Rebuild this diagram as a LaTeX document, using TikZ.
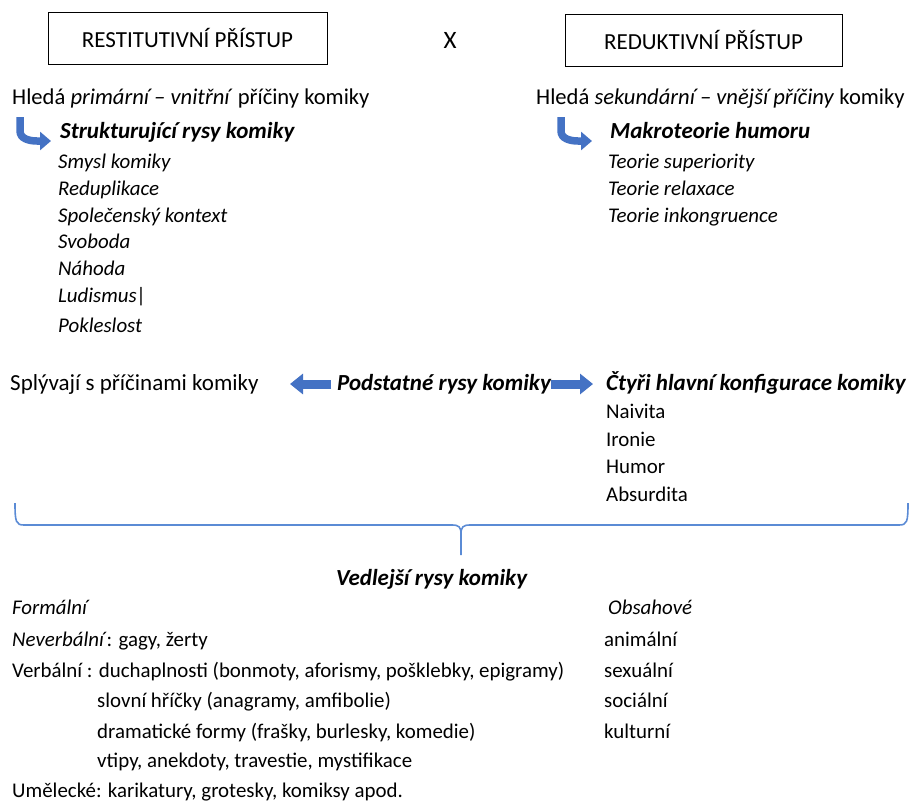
\documentclass[tikz,border=0pt]{standalone}
\usepackage{fontspec}
\setmainfont{Carlito}
\usetikzlibrary{arrows.meta}
\definecolor{arrblue}{HTML}{4472C4}
\definecolor{braceblue}{HTML}{5B8BD5}
\newcommand{\smallsz}{\fontsize{20.9}{25}\selectfont}
\newcommand{\bigsz}{\fontsize{23}{27}\selectfont}
\begin{document}
\begin{tikzpicture}[x=1pt,y=-1pt,
  every node/.style={font=\smallsz, inner sep=0pt},
  txt/.style={anchor=base west},
  bigtxt/.style={anchor=base west, font=\bigsz},
  it/.style={anchor=base west, font=\smallsz\itshape},
  bi/.style={anchor=base west, font=\bigsz\bfseries\itshape},
  headbox/.style={draw, line width=0.9pt, minimum height=52pt, font=\bigsz},
  bendarrow/.style={arrblue, line width=7.5pt, -{Triangle[length=11pt,width=18pt]}},
  blockarrow/.style={arrblue, line width=9pt, -{Triangle[length=13pt,width=20pt]}},
  bracestyle/.style={braceblue, line width=1.6pt, line join=round}
]
\useasboundingbox (0,0) rectangle (911,801);

% header
\node[headbox, minimum width=279pt] (rest) at (187.5,38) {RESTITUTIVNÍ PŘÍSTUP};
\node[font=\fontsize{25}{30}\selectfont] (x) at (450,40) {X};
\node[headbox, minimum width=277pt] (red) at (703.5,40) {REDUKTIVNÍ PŘÍSTUP};

% left column
\node[bigtxt, font=\fontsize{22.6}{27}\selectfont] (hl) at (12,104) {Hledá \textit{primární – vnitřní} příčiny komiky};
\node[bi] (str) at (60,138) {Strukturující rysy komiky};
\node[it] (l1) at (58,168) {Smysl komiky};
\node[it] (l2) at (58,195) {Reduplikace};
\node[it] (l3) at (58,222) {Společenský kontext};
\node[it] (l4) at (58,248) {Svoboda};
\node[it] (l5) at (58,275) {Náhoda};
\node[it] (l6) at (58,302) {Ludismus|};
\node[it] (l7) at (58,332) {Pokleslost};

% right column
\node[bigtxt, font=\fontsize{22.6}{27}\selectfont] (hr) at (536,104) {Hledá \textit{sekundární – vnější příčiny} komiky};
\node[bi] (mak) at (610,138) {Makroteorie humoru};
\node[it] (r1) at (608,168) {Teorie superiority};
\node[it] (r2) at (608,195) {Teorie relaxace};
\node[it] (r3) at (608,222) {Teorie inkongruence};

% bent arrows
\coordinate (ba1) at (20,117);
\coordinate (ba1e) at (51,141);
\draw[bendarrow] (ba1) -- (20,131) to[out=-90,in=180] (37,141) -- (ba1e);
\coordinate (ba2) at (561,117);
\coordinate (ba2e) at (592,141);
\draw[bendarrow] (ba2) -- (561,131) to[out=-90,in=180] (578,141) -- (ba2e);

% middle row
\node[bigtxt] (spl) at (10,390) {Splývají s příčinami komiky};
\node[bi] (pod) at (337,390) {Podstatné rysy komiky};
\node[bi] (ctyr) at (606,390) {Čtyři hlavní konfigurace komiky};
\node[txt] (k1) at (606,418) {Naivita};
\node[txt] (k2) at (606,446) {Ironie};
\node[txt] (k3) at (606,473) {Humor};
\node[txt] (k4) at (606,501) {Absurdita};

\coordinate (la) at (290,384);
\coordinate (ra) at (593,384);
\draw[blockarrow] (pod.west |- la) ++(-6,0) -- (la);
\draw[blockarrow] (pod.east |- ra) -- (ra);

% brace
\coordinate (bl) at (15,503);
\coordinate (br) at (908,503);
\coordinate (bt) at (461,555);
\draw[bracestyle] (bl) .. controls (15,522) and (16,525) .. (24,525) -- (452,525)
   .. controls (459,525) and (461,527) .. (461,534) -- (bt);
\draw[bracestyle] (br) .. controls (908,522) and (907,525) .. (899,525) -- (470,525)
   .. controls (463,525) and (461,527) .. (461,534);

% lower section
\node[bi] (ved) at (336,585) {Vedlejší rysy komiky};
\node[it] (for) at (12,614) {Formální};
\node[it] (obs) at (608,614) {Obsahové};
\node[txt] (nev) at (12,646) {\textit{Neverbální}: gagy, žerty};
\node[txt] (ver) at (12,677) {Verbální : duchaplnosti (bonmoty, aforismy, pošklebky, epigramy)};
\node[txt] (v2) at (97,707) {slovní hříčky (anagramy, amfibolie)};
\node[txt] (v3) at (97,738) {dramatické formy (frašky, burlesky, komedie)};
\node[txt] (v4) at (97,767) {vtipy, anekdoty, travestie, mystifikace};
\node[txt] (ume) at (12,797) {Umělecké: karikatury, grotesky, komiksy apod.};
\node[txt] (o1) at (604,646) {animální};
\node[txt] (o2) at (604,677) {sexuální};
\node[txt] (o3) at (604,707) {sociální};
\node[txt] (o4) at (604,738) {kulturní};
\end{tikzpicture}
\end{document}
